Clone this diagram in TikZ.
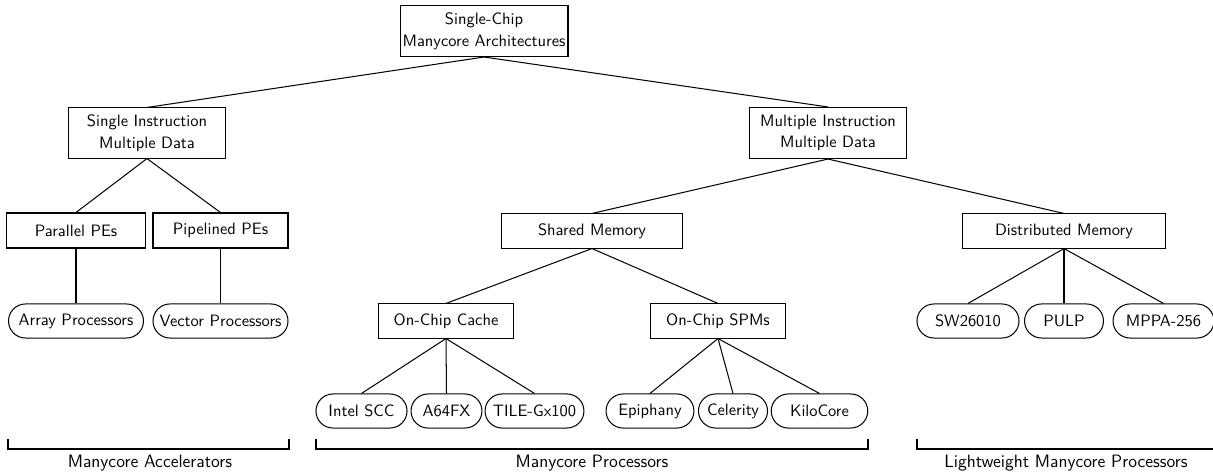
\documentclass[tikz,border=0pt]{standalone}
\usetikzlibrary{shapes.misc}
\begin{document}
\begin{tikzpicture}[x=0.637pt,y=-0.637pt,
  txt/.style={font=\sffamily\fontsize{10.5}{13.8}\selectfont},
  box/.style={txt,draw,rectangle,inner sep=0pt,line width=0.65pt,align=center},
  leaf/.style={txt,draw,rounded rectangle,inner sep=0pt,line width=0.65pt,minimum height=21.7pt},
  wire/.style={line width=0.65pt},
  brk/.style={line width=0.65pt},
  lab/.style={font=\sffamily\fontsize{11.4}{14}\selectfont,inner sep=0pt}]
\useasboundingbox (0,0) rectangle (1213,475);
% level 0
\node[box,minimum width=107pt,minimum height=32.5pt] (root) at (484,31) {Single-Chip\\Manycore Architectures};
% level 1
\node[box,minimum width=99.4pt,minimum height=31.9pt] (simd) at (147,133) {Single Instruction\\Multiple Data};
\node[box,minimum width=100.6pt,minimum height=32.5pt] (mimd) at (828,133) {Multiple Instruction\\Multiple Data};
% level 2
\node[box,minimum width=88.5pt,minimum height=22.3pt] (ppe) at (76,230.5) {Parallel PEs};
\node[box,minimum width=86pt,minimum height=22.3pt] (pipe) at (220.5,230.5) {Pipelined PEs};
\node[box,minimum width=114.7pt,minimum height=21.7pt] (shm) at (592,231) {Shared Memory};
\node[box,minimum width=128.7pt,minimum height=21.7pt] (dm) at (1064,231) {Distributed Memory};
% level 3
\node[leaf,minimum width=86pt] (arr) at (76,321) {Array Processors};
\node[leaf,minimum width=86pt] (vec) at (220.5,321) {Vector Processors};
\node[box,minimum width=86.6pt,minimum height=21.7pt] (occ) at (446,321) {On-Chip Cache};
\node[box,minimum width=86.6pt,minimum height=21.7pt] (spm) at (718,321) {On-Chip SPMs};
\node[leaf,minimum width=65pt] (sw) at (968,321) {SW26010};
\node[leaf,minimum width=50.3pt] (pulp) at (1064,321) {PULP};
\node[leaf,minimum width=64.3pt] (mppa) at (1163.5,321) {MPPA-256};
% level 4
\node[leaf,minimum width=58pt] (intel) at (361.5,411) {Intel SCC};
\node[leaf,minimum width=45.2pt] (a64) at (446.5,411) {A64FX};
\node[leaf,minimum width=63pt] (tile) at (534.5,411) {TILE-Gx100};
\node[leaf,minimum width=56pt] (epi) at (650,411) {Epiphany};
\node[leaf,minimum width=44pt] (cel) at (733,411) {Celerity};
\node[leaf,minimum width=61.5pt] (kilo) at (819.5,411) {KiloCore};
% connectors
\draw[wire] (root.south) -- (simd.north);
\draw[wire] (root.south) -- (mimd.north);
\draw[wire] (simd.south) -- (ppe.north);
\draw[wire] (simd.south) -- (pipe.north);
\draw[wire] (ppe.south) -- (arr.north);
\draw[wire] (pipe.south) -- (vec.north);
\draw[wire] (mimd.south) -- (shm.north);
\draw[wire] (mimd.south) -- (dm.north);
\draw[wire] (shm.south) -- (occ.north);
\draw[wire] (shm.south) -- (spm.north);
\draw[wire] (occ.south) -- (intel.north);
\draw[wire] (occ.south) -- (a64.north);
\draw[wire] (occ.south) -- (tile.north);
\draw[wire] (spm.south) -- (epi.north);
\draw[wire] (spm.south) -- (cel.north);
\draw[wire] (spm.south) -- (kilo.north);
\draw[wire] (dm.south) -- (sw.north);
\draw[wire] (dm.south) -- (pulp.north);
\draw[wire] (dm.south) -- (mppa.north);
% brackets
\coordinate (b1a) at (8,439);
\coordinate (b1b) at (289,439);
\coordinate (b2a) at (316,439);
\coordinate (b2b) at (868,439);
\coordinate (b3a) at (917,439);
\coordinate (b3b) at (1215,439);
\draw[brk] (b1a) -- ++(0,10) -| (b1b);
\draw[brk] (b2a) -- ++(0,10) -| (b2b);
\draw[brk] (b3a) -- ++(0,10) -| (b3b);
\node[lab] (l1) at (150,463) {Manycore Accelerators};
\node[lab] (l2) at (592,463) {Manycore Processors};
\node[lab] (l3) at (1066,463) {Lightweight Manycore Processors};
\end{tikzpicture}
\end{document}
